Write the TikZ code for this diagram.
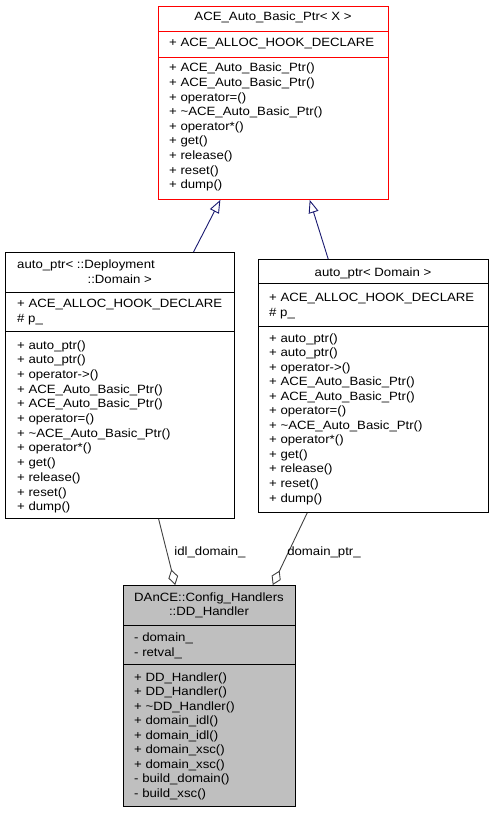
\documentclass[tikz,border=0pt]{standalone}
\usepackage{fontspec}
\setmainfont[FakeStretch=1.1]{Liberation Sans}
\usetikzlibrary{arrows.meta,calc}
\definecolor{edgeblue}{HTML}{191970}
\definecolor{edgegray}{HTML}{404040}
\definecolor{classgray}{HTML}{BFBFBF}
\tikzset{
  cls/.style = {draw=black, line width=0.9pt, inner sep=0pt, anchor=north west},
  cls_red/.style = {cls, draw=red},
  cls_cur/.style = {cls, fill=classgray},
  member/.style = {anchor=west, inner sep=0pt, text height=8.5pt, text depth=2.5pt, font=\fontsize{12}{14}\selectfont},
  title/.style = {member, anchor=center},
  inherit/.style = {draw=edgeblue, line width=0.9pt, -{Triangle[open,length=13pt,width=10pt]}},
  usage/.style = {draw=edgegray, line width=0.9pt, -{Diamond[open,length=16pt,width=10pt]}},
}

\begin{document}
\begin{tikzpicture}[x=1pt, y=-1pt]
  \useasboundingbox (0,0) rectangle (493,813);

  \node [cls_red, minimum width=230pt, minimum height=193pt] (base) at (158,6) {};
  \draw [red, line width=0.9pt] (base.west |- 0,31) -- (base.east |- 0,31);
  \draw [red, line width=0.9pt] (base.west |- 0,57) -- (base.east |- 0,57);
  \node [title] (base_t) at (273,18) {ACE\_Auto\_Basic\_Ptr< X >};
  \node [member] (base_a) at (169,44) {+ ACE\_ALLOC\_HOOK\_DECLARE};
  \foreach \m [count=\i from 0] in {+ ACE\_Auto\_Basic\_Ptr(), + ACE\_Auto\_Basic\_Ptr(),
      + operator=(), + \textasciitilde ACE\_Auto\_Basic\_Ptr(), + operator*(), + get(),
      + release(), + reset(), + dump()}
    \node [member] at (169,{69+14.6*\i}) {\m};

  \node [cls, minimum width=229pt, minimum height=266pt] (ldom) at (5,252) {};
  \draw [line width=0.9pt] (ldom.west |- 0,292) -- (ldom.east |- 0,292);
  \draw [line width=0.9pt] (ldom.west |- 0,331) -- (ldom.east |- 0,331);
  \node [member] (ldom_t1) at (17,265) {auto\_ptr< ::Deployment};
  \node [member, anchor=east] (ldom_t2) at (152,280) {::Domain >};
  \node [member] (ldom_a1) at (17,304) {+ ACE\_ALLOC\_HOOK\_DECLARE};
  \node [member] (ldom_a2) at (17,319) {\# p\_};
  \foreach \m [count=\i from 0] in {+ auto\_ptr(), + auto\_ptr(), + operator->(),
      + ACE\_Auto\_Basic\_Ptr(), + ACE\_Auto\_Basic\_Ptr(), + operator=(),
      + \textasciitilde ACE\_Auto\_Basic\_Ptr(), + operator*(), + get(), + release(),
      + reset(), + dump()}
    \node [member] at (17,{346+14.7*\i}) {\m};

  \node [cls, minimum width=230pt, minimum height=253pt] (rdom) at (258,259) {};
  \draw [line width=0.9pt] (rdom.west |- 0,283) -- (rdom.east |- 0,283);
  \draw [line width=0.9pt] (rdom.west |- 0,326) -- (rdom.east |- 0,326);
  \node [title] (rdom_t) at (373,273) {auto\_ptr< Domain >};
  \node [member] (rdom_a1) at (269,298) {+ ACE\_ALLOC\_HOOK\_DECLARE};
  \node [member] (rdom_a2) at (269,313) {\# p\_};
  \foreach \m [count=\i from 0] in {+ auto\_ptr(), + auto\_ptr(), + operator->(),
      + ACE\_Auto\_Basic\_Ptr(), + ACE\_Auto\_Basic\_Ptr(), + operator=(),
      + \textasciitilde ACE\_Auto\_Basic\_Ptr(), + operator*(), + get(), + release(),
      + reset(), + dump()}
    \node [member] at (269,{339+14.55*\i}) {\m};

  \node [cls_cur, minimum width=172pt, minimum height=221pt] (ddh) at (123,585) {};
  \draw [line width=0.9pt] (ddh.west |- 0,625) -- (ddh.east |- 0,625);
  \draw [line width=0.9pt] (ddh.west |- 0,664) -- (ddh.east |- 0,664);
  \node [title] (ddh_t1) at (209,598) {DAnCE::Config\_Handlers};
  \node [title] (ddh_t2) at (209,612) {::DD\_Handler};
  \node [member] (ddh_a1) at (134,638) {- domain\_};
  \node [member] (ddh_a2) at (134,653) {- retval\_};
  \foreach \m [count=\i from 0] in {+ DD\_Handler(), + DD\_Handler(),
      + \textasciitilde DD\_Handler(), + domain\_idl(), + domain\_idl(), + domain\_xsc(),
      + domain\_xsc(), - build\_domain(), - build\_xsc()}
    \node [member] at (134,{678+14.5*\i}) {\m};

  \draw [inherit] ($(ldom.north west)!0.82!(ldom.north east)$) -- ($(base.south west)!0.27!(base.south east)$);
  \draw [inherit] ($(rdom.north west)!0.304!(rdom.north east)$) -- ($(base.south west)!0.657!(base.south east)$);
  \draw [usage] ($(ldom.south west)!0.668!(ldom.south east)$) -- ($(ddh.north west)!0.302!(ddh.north east)$);
  \draw [usage] ($(rdom.south west)!0.213!(rdom.south east)$) -- ($(ddh.north west)!0.866!(ddh.north east)$);
  \node [title] (lbl_idl) at (210,552) {idl\_domain\_};
  \node [title] (lbl_ptr) at (324,552) {domain\_ptr\_};
\end{tikzpicture}
\end{document}
